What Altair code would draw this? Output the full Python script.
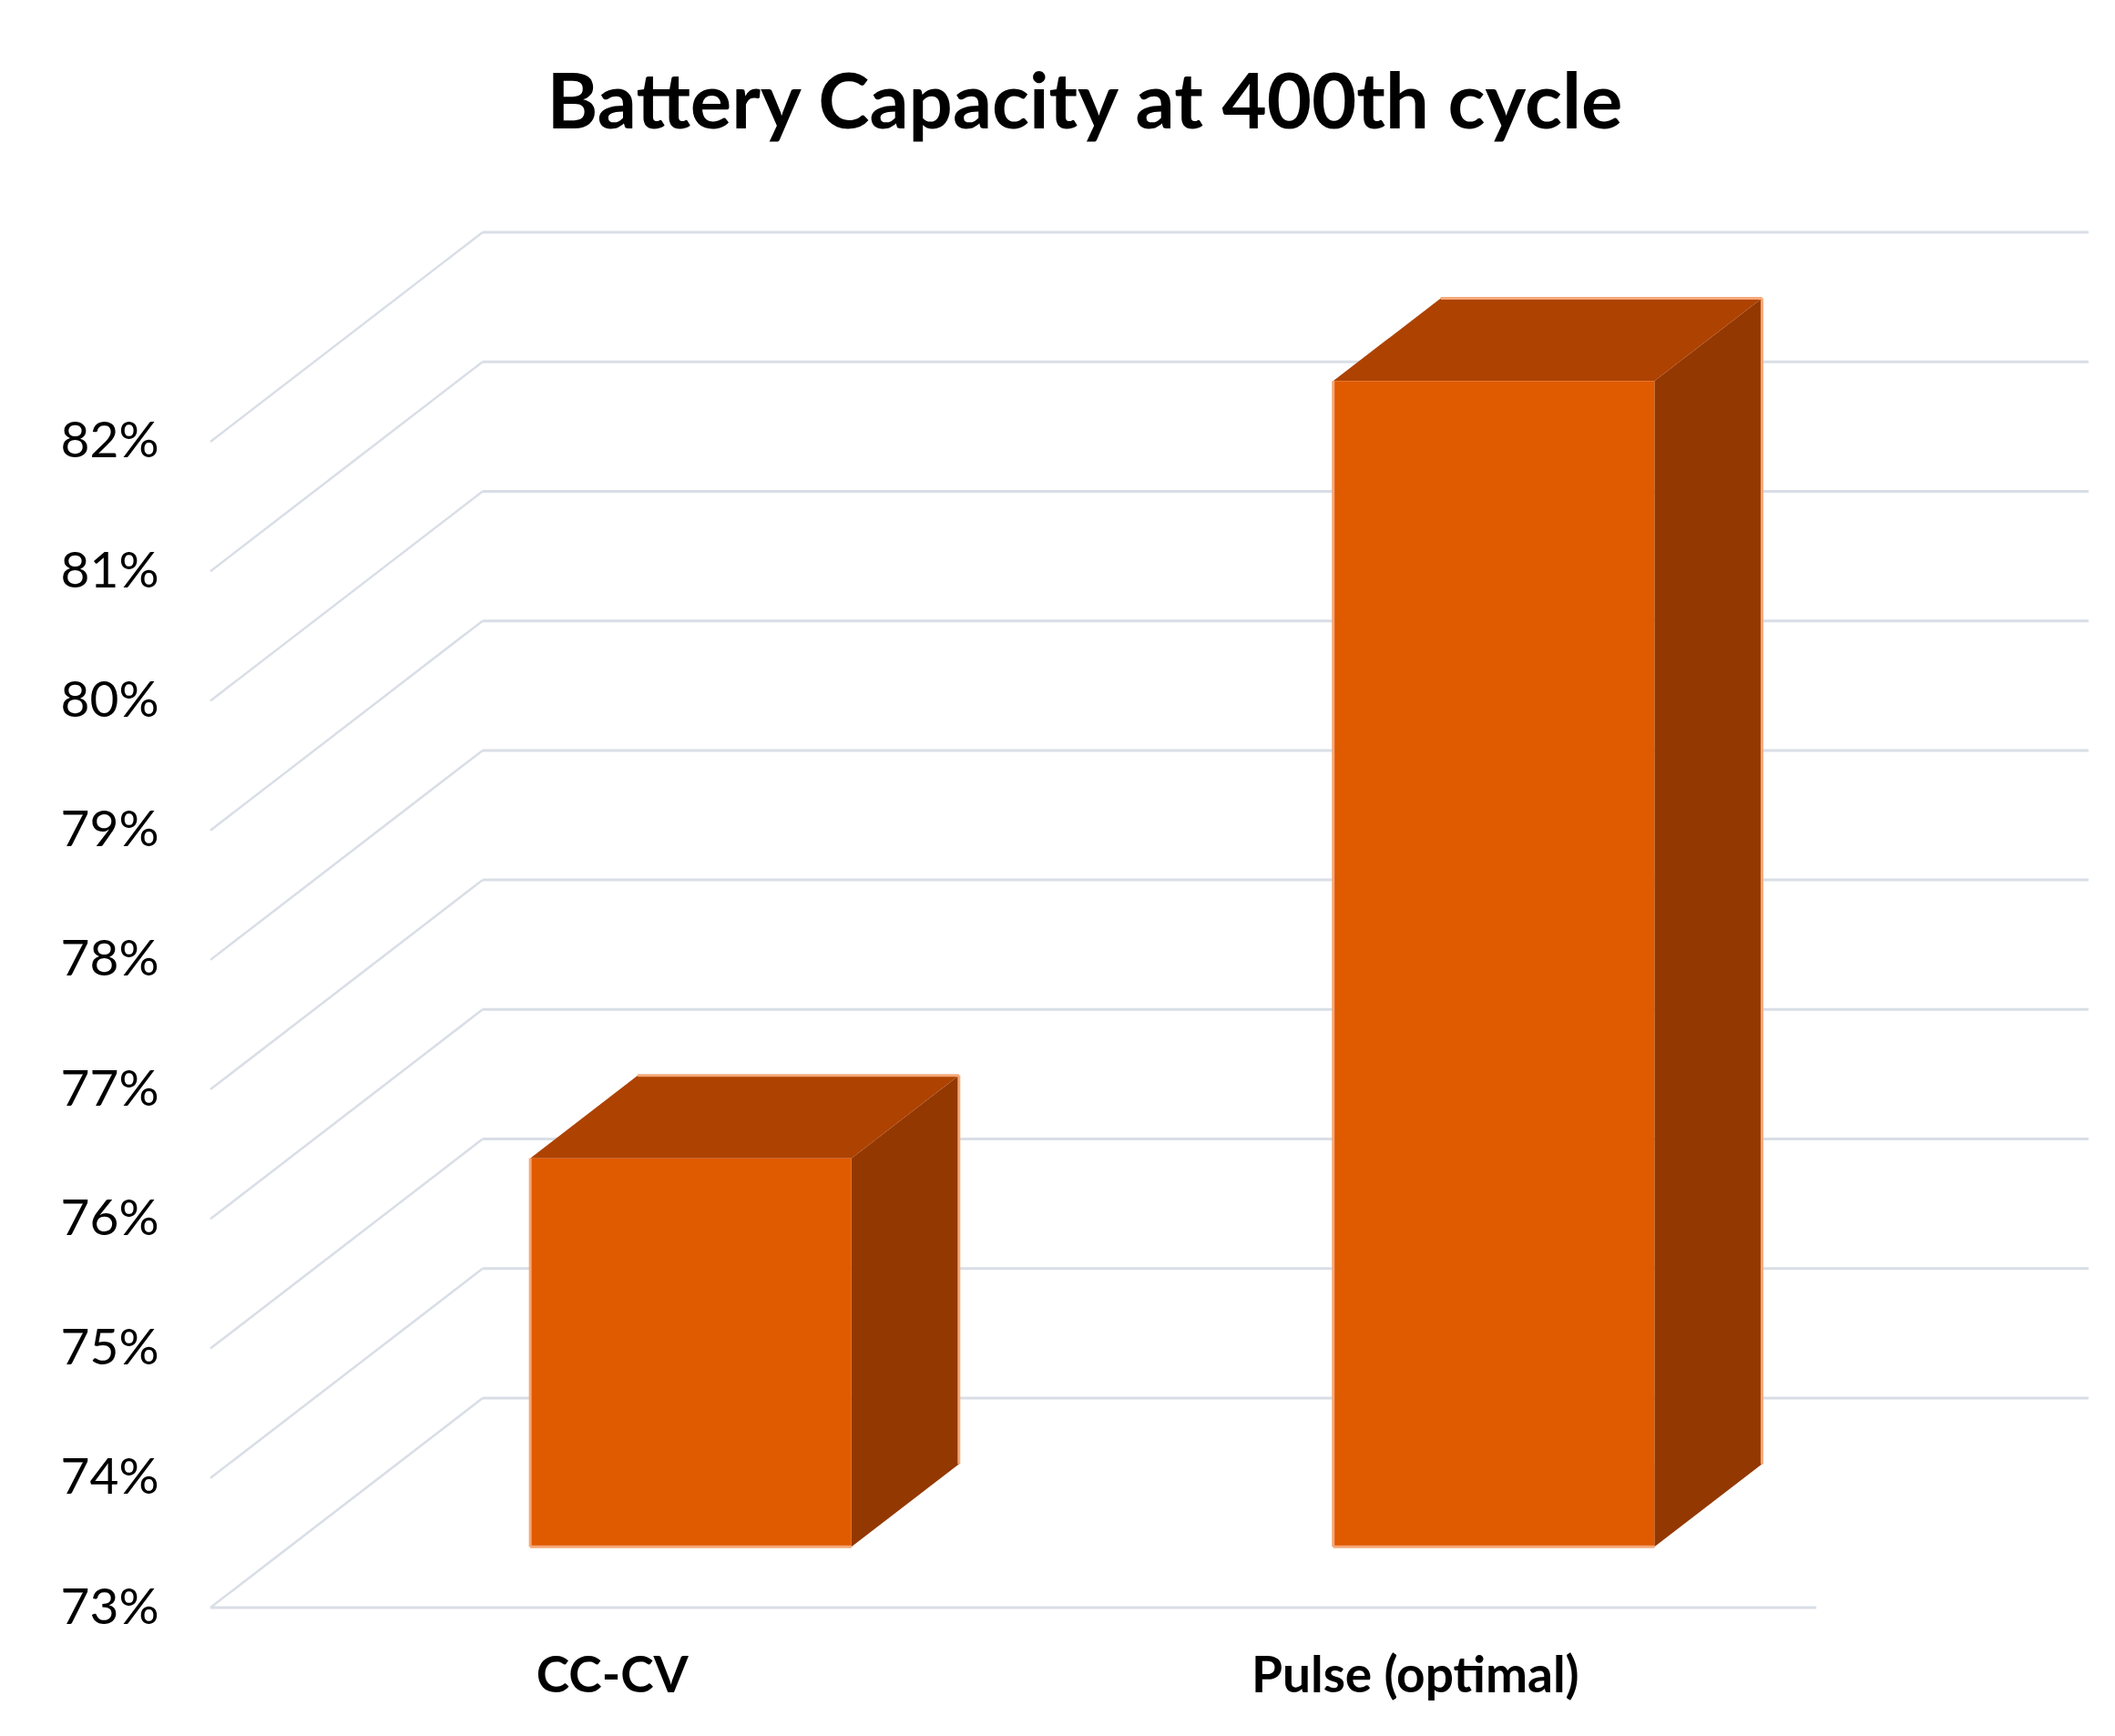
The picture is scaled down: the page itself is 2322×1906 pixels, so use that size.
import json
import altair as alt
import pandas as pd

# ---------------- data ----------------
categories = ["CC-CV", "Pulse (optimal)"]
capacity = [76.0, 82.0]          # battery capacity (%) at 400th cycle
y_ticks = [73, 74, 75, 76, 77, 78, 79, 80, 81, 82]
title_text = "Battery Capacity at 400th cycle"

# ---------------- 3-D projection / style constants ----------------
BASE = 73.0        # floor of the value axis
DEPTH_X = 0.339    # horizontal shift of full depth (category units)
DEPTH_Y = 1.617    # vertical shift of full depth (value units)
BAR_W = 0.40       # bar width as fraction of a category band
D0, D1 = 0.29, 0.685   # bar front / back depth (fraction of full depth)

W, H = 2062, 1510
n = len(categories)
x_dom = [0, n + DEPTH_X]
y_dom = [BASE, y_ticks[-1] + DEPTH_Y]

FRONT = "#E05A00"
TOP = "#AE4200"
SIDE = "#933800"
EDGE = "#F4A878"
GRID = "#D9DEE6"
FONT = "Lato"

# ---------------- derived tables ----------------
front_rows, top_rows, side_rows, edge_rows = [], [], [], []
for i, (cat, v) in enumerate(zip(categories, capacity)):
    c = i + 0.5
    xl, xr = c - BAR_W / 2, c + BAR_W / 2
    front_rows.append(dict(cat=cat, x=xl + D0 * DEPTH_X, x2=xr + D0 * DEPTH_X,
                           y=BASE + D0 * DEPTH_Y, y2=v + D0 * DEPTH_Y))
    for d in (D0, D1):
        top_rows.append(dict(cat=cat, y=v + d * DEPTH_Y,
                             x=xl + d * DEPTH_X, x2=xr + d * DEPTH_X))
        side_rows.append(dict(cat=cat, x=xr + d * DEPTH_X,
                              y=BASE + d * DEPTH_Y, y2=v + d * DEPTH_Y))
    # light edges
    edge_rows.append(dict(x=xl + D0 * DEPTH_X, x2=xl + D0 * DEPTH_X,
                          y=BASE + D0 * DEPTH_Y, y2=v + D0 * DEPTH_Y))
    edge_rows.append(dict(x=xl + D0 * DEPTH_X, x2=xr + D0 * DEPTH_X,
                          y=BASE + D0 * DEPTH_Y, y2=BASE + D0 * DEPTH_Y))
    edge_rows.append(dict(x=xr + D1 * DEPTH_X, x2=xr + D1 * DEPTH_X,
                          y=BASE + D1 * DEPTH_Y, y2=v + D1 * DEPTH_Y))
    edge_rows.append(dict(x=xl + D1 * DEPTH_X, x2=xr + D1 * DEPTH_X,
                          y=v + D1 * DEPTH_Y, y2=v + D1 * DEPTH_Y))

back_rows = [dict(x=DEPTH_X, x2=n + DEPTH_X, y=t + DEPTH_Y) for t in y_ticks]
wall_rows = [dict(x=0, x2=DEPTH_X, y=t, y2=t + DEPTH_Y) for t in y_ticks]
floor_rows = [dict(x=0, x2=n, y=BASE)]

front_df = pd.DataFrame(front_rows)
top_df = pd.DataFrame(top_rows)
side_df = pd.DataFrame(side_rows)
edge_df = pd.DataFrame(edge_rows)
back_df = pd.DataFrame(back_rows)
wall_df = pd.DataFrame(wall_rows)
floor_df = pd.DataFrame(floor_rows)

# ---------------- shared scales / axes ----------------
x_scale = alt.Scale(domain=x_dom, nice=False, zero=False)
y_scale = alt.Scale(domain=y_dom, nice=False, zero=False)

x_axis = alt.Axis(
    values=[i + 0.5 for i in range(n)],
    labelExpr=json.dumps(categories) + "[floor(datum.value)]",
    ticks=False, domain=False, grid=False, tickSize=0,
    labelFont=FONT, labelFontSize=55, labelFontWeight="bold", labelColor="#000000",
    labelPadding=49, labelOverlap=False, labelFlush=False, labelLimit=2000,
)
y_axis = alt.Axis(
    values=y_ticks,
    labelExpr="datum.value + '%'",
    ticks=False, domain=False, grid=False, tickSize=0,
    labelFont=FONT, labelFontSize=55, labelColor="#000000",
    labelPadding=57, labelOverlap=False, labelFlush=False, labelLimit=2000,
)


def X(f):
    return alt.X(f, type="quantitative", scale=x_scale, axis=x_axis, title=None)


def Y(f):
    return alt.Y(f, type="quantitative", scale=y_scale, axis=y_axis, title=None)


back = alt.Chart(back_df).mark_rule(color=GRID, strokeWidth=3).encode(
    x=X("x"), x2="x2", y=Y("y"))
wall = alt.Chart(wall_df).mark_rule(color=GRID, strokeWidth=2.5).encode(
    x=X("x"), x2="x2", y=Y("y"), y2="y2")
floor = alt.Chart(floor_df).mark_rule(color=GRID, strokeWidth=3).encode(
    x=X("x"), x2="x2", y=Y("y"))

front = alt.Chart(front_df).mark_rect(color=FRONT).encode(
    x=X("x"), x2="x2", y=Y("y"), y2="y2")
top = alt.Chart(top_df).mark_area(color=TOP, orient="horizontal").encode(
    y=Y("y"), x=X("x"), x2="x2", detail="cat:N")
side = alt.Chart(side_df).mark_area(color=SIDE, orient="vertical").encode(
    x=X("x"), y=Y("y"), y2="y2", detail="cat:N")
edges = alt.Chart(edge_df).mark_rule(color=EDGE, strokeWidth=3).encode(
    x=X("x"), x2="x2", y=Y("y"), y2="y2")

chart = alt.layer(back, wall, floor, side, top, front, edges).properties(
    width=W, height=H,
    background="white",
    title=alt.TitleParams(
        title_text, font=FONT, fontSize=85, fontWeight="bold", color="#000000",
        anchor="middle", dx=-71, offset=28, baseline="alphabetic",
    ),
    autosize=alt.AutoSizeParams(type="none"),
    padding={"left": 223, "top": 247, "right": 15, "bottom": 133},
).configure_view(stroke=None, strokeWidth=0)

chart.save("out.html", embed_options={"renderer": "svg", "actions": False})
